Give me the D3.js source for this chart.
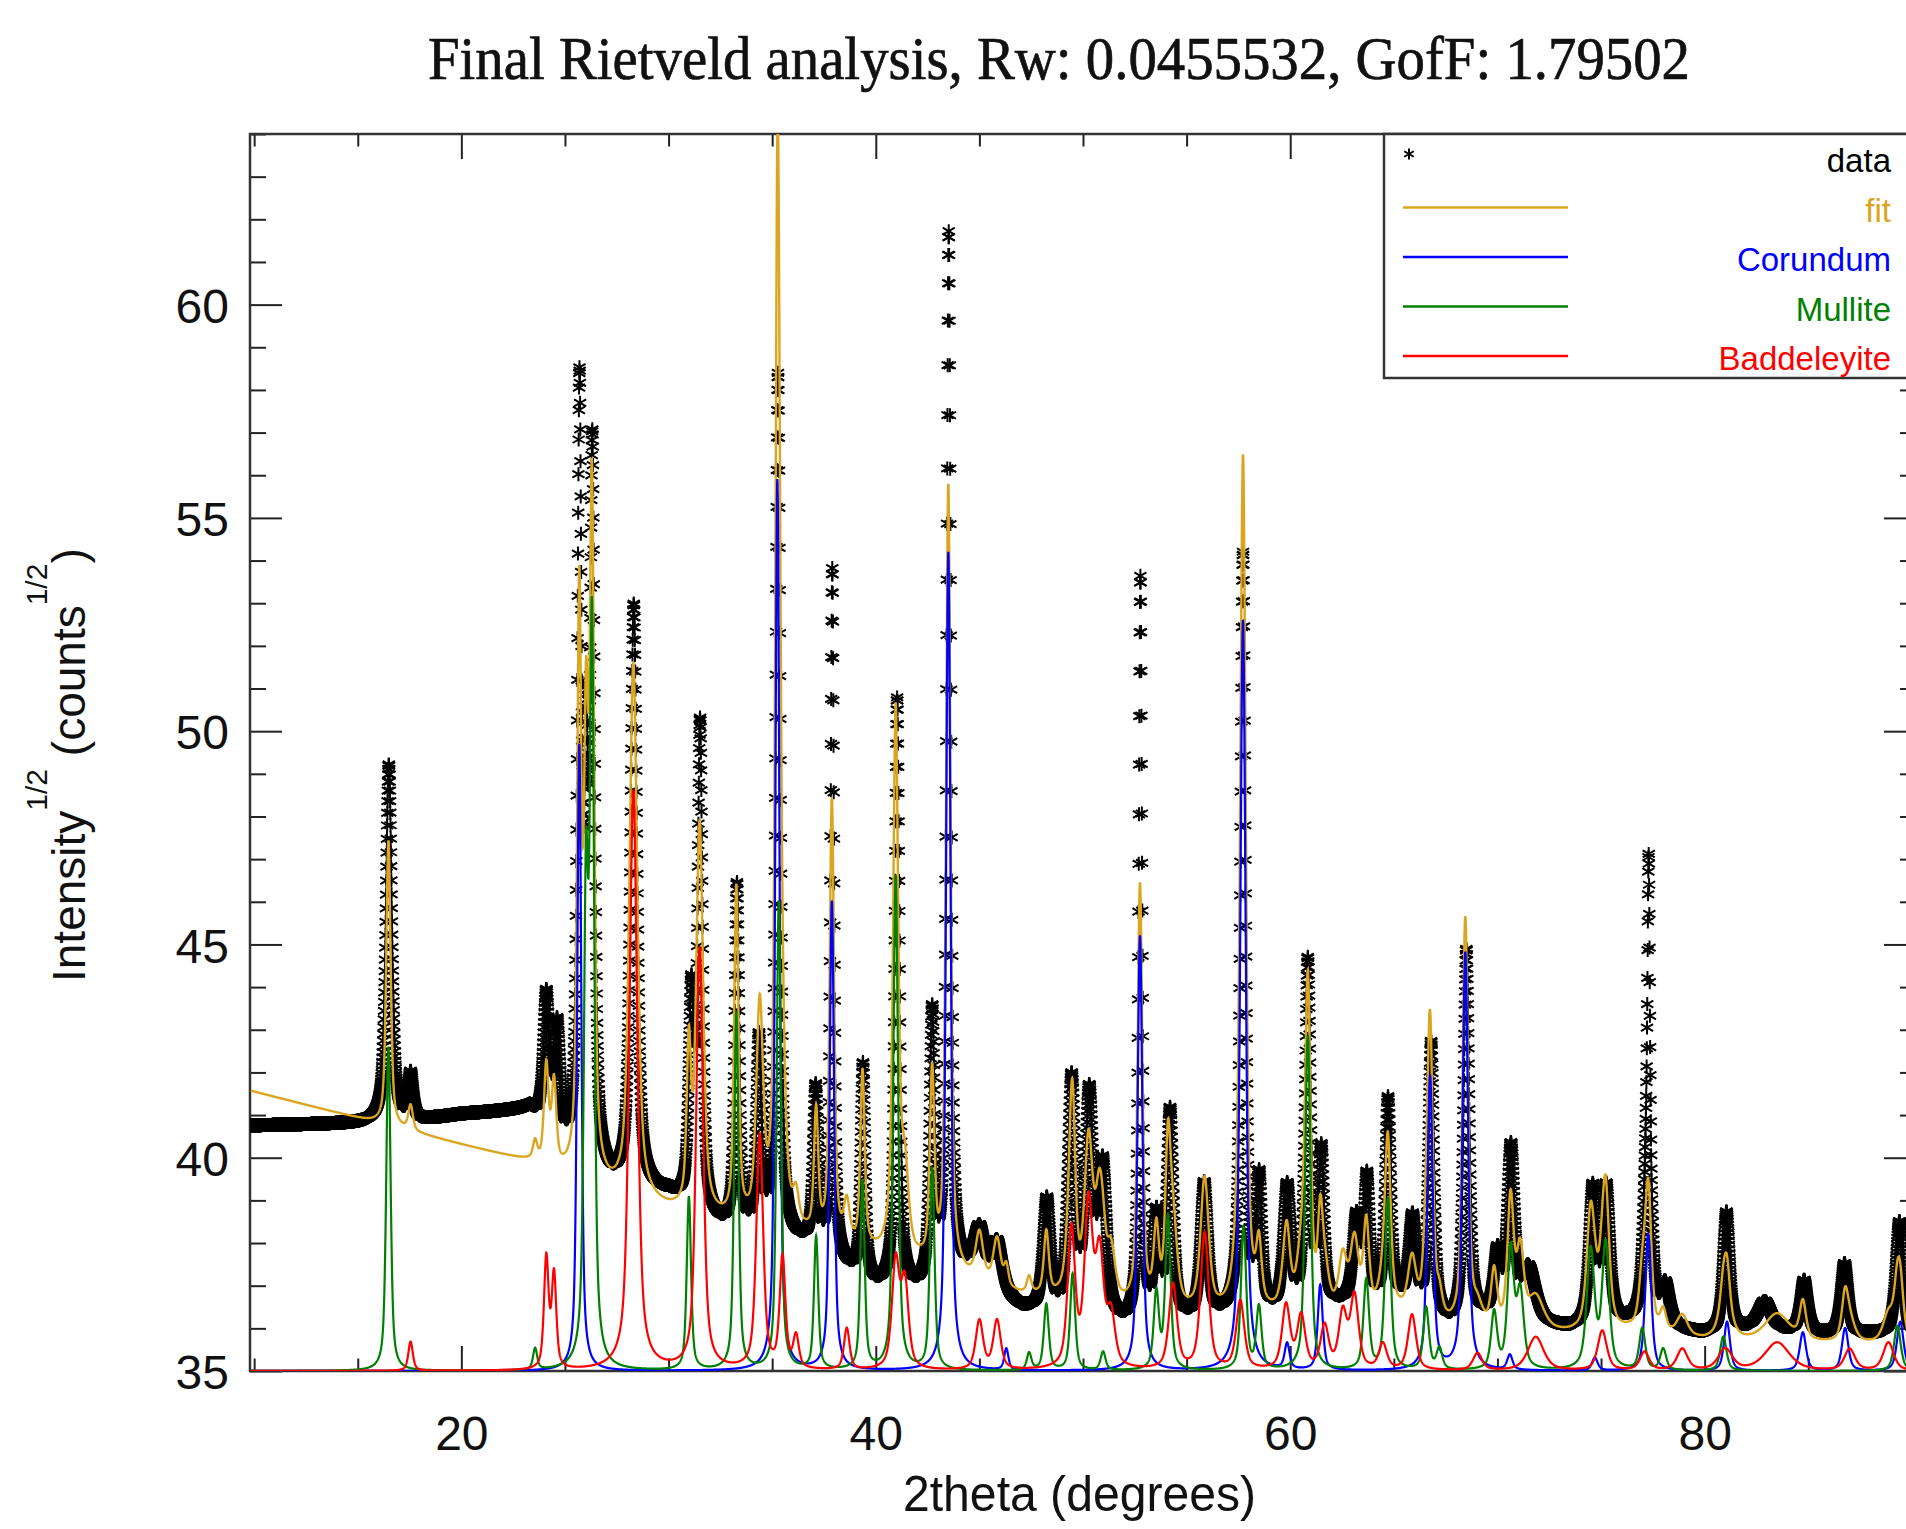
<!DOCTYPE html>
<html>
<head>
<meta charset="utf-8">
<script src="https://cdn.jsdelivr.net/npm/d3@7"></script>
<style>
  body { margin: 0; background: #fff; }
  svg { display: block; }
</style>
</head>
<body>
<div id="vis"></div>
<script>
// peaks are [2theta, top value as drawn (sqrt counts), half width]
const corundumPeaks = [
  [25.69, 49.7, 0.11], [35.25, 55.9, 0.11], [37.88, 46.0, 0.12], [43.50, 54.2, 0.12],
  [46.30, 35.5, 0.12], [52.75, 45.2, 0.13], [57.72, 52.6, 0.14], [59.85, 35.6, 0.14],
  [61.45, 37.0, 0.14], [66.75, 41.9, 0.15], [68.45, 44.8, 0.15], [70.60, 35.35, 0.15],
  [74.70, 35.3, 0.16], [77.28, 38.2, 0.17], [81.08, 36.15, 0.17], [84.74, 35.9, 0.18],
  [86.78, 36.0, 0.18], [89.44, 36.15, 0.19]
];

const mullitePeaks = [
  [16.48, 42.6, 0.12], [23.56, 35.5, 0.12], [26.02, 46.0, 0.12], [26.30, 52.3, 0.12],
  [30.98, 39.06, 0.12], [33.27, 43.4, 0.12], [35.32, 46.0, 0.12], [37.12, 38.12, 0.12],
  [39.36, 39.42, 0.12], [40.96, 46.6, 0.13], [42.72, 39.73, 0.13], [47.40, 35.4, 0.13],
  [48.23, 36.55, 0.14], [49.50, 37.27, 0.14], [50.97, 35.43, 0.14], [53.54, 36.8, 0.15],
  [54.10, 38.6, 0.15], [57.75, 38.34, 0.15], [58.49, 36.46, 0.15], [60.85, 42.86, 0.15],
  [63.67, 37.1, 0.16], [64.71, 39.0, 0.16], [66.56, 36.46, 0.16], [67.20, 35.5, 0.16],
  [69.84, 36.33, 0.17], [70.64, 37.8, 0.18], [71.10, 36.8, 0.20], [74.50, 37.8, 0.22],
  [75.22, 37.94, 0.20], [76.99, 35.97, 0.17], [78.00, 35.5, 0.17], [80.90, 35.8, 0.18],
  [89.30, 36.06, 0.19]
];

const baddeleyitePeaks = [
  [17.55, 35.68, 0.13], [24.10, 37.6, 0.13], [24.47, 37.2, 0.13], [28.30, 48.6, 0.21],
  [31.50, 44.9, 0.19], [34.40, 40.5, 0.19], [35.50, 37.6, 0.16], [36.15, 35.75, 0.16],
  [38.60, 35.97, 0.16], [40.96, 37.5, 0.21], [41.40, 37.0, 0.21], [45.00, 36.15, 0.21],
  [45.85, 36.15, 0.21], [49.44, 38.25, 0.21], [50.27, 38.8, 0.23], [50.80, 37.6, 0.23],
  [51.35, 36.2, 0.23], [54.34, 37.0, 0.23], [55.87, 38.2, 0.23], [57.59, 36.6, 0.23],
  [59.80, 36.5, 0.23], [60.53, 36.24, 0.23], [61.66, 36.0, 0.23], [62.54, 36.3, 0.23],
  [63.10, 36.7, 0.23], [64.47, 35.6, 0.23], [65.88, 36.3, 0.23], [69.04, 35.4, 0.26],
  [71.85, 35.79, 0.45], [75.06, 35.93, 0.26], [77.10, 35.43, 0.26], [78.92, 35.5, 0.30],
  [81.00, 35.5, 0.40], [83.50, 35.66, 0.70], [87.00, 35.5, 0.30], [88.87, 35.66, 0.30]
];

// background under the fitted curve, [2theta, value]
const fitBackground = [
  [9.8, 41.57], [23.3, 39.88], [27.3, 39.1], [30.1, 38.7], [32.6, 38.46], [36.6, 38.1],
  [40, 37.7], [42.1, 37.46], [47, 36.75], [52, 36.43], [57, 36.25], [62, 36.25],
  [65, 36.35], [67.7, 35.95], [73.5, 35.85], [76.4, 35.9], [80, 35.7], [90.2, 35.6]
];

// measured pattern: baseline and peak tops
const dataBackground = [
  [9.8, 40.75], [15.4, 40.8], [18, 40.85], [20, 41.0], [23.3, 41.1], [25.2, 40.0],
  [27.3, 39.3], [30, 39.1], [32.6, 38.3], [36.6, 37.9], [40, 36.9], [42, 36.8],
  [44.5, 37.2], [47, 36.4], [52, 36.0], [56.7, 36.2], [59.2, 36.3], [62.2, 36.5],
  [65.3, 36.6], [67.7, 36.0], [69.3, 36.2], [73.5, 35.95], [76.3, 36.1], [79.9, 35.85],
  [82.5, 36.0], [85.7, 35.85], [90.2, 35.85]
];

const dataPeaks = [
  [16.50, 49.2, 0.16], [17.55, 41.9, 0.14], [24.10, 43.7, 0.16], [24.62, 42.9, 0.16],
  [25.70, 57.8, 0.11], [26.02, 48.5, 0.10], [26.32, 56.3, 0.12], [28.32, 52.9, 0.17],
  [31.10, 43.6, 0.14], [31.52, 50.0, 0.13], [33.30, 46.3, 0.12], [34.36, 42.6, 0.14],
  [35.28, 58.3, 0.12], [37.10, 41.5, 0.14], [37.90, 53.7, 0.09], [39.38, 42.1, 0.12],
  [41.03, 50.7, 0.12], [42.72, 43.2, 0.13], [43.52, 61.6, 0.11], [45.00, 38.2, 0.30],
  [45.85, 37.9, 0.30], [48.25, 38.9, 0.20], [49.45, 41.7, 0.20], [50.30, 41.3, 0.22],
  [50.95, 39.6, 0.22], [52.77, 53.5, 0.09], [53.55, 38.4, 0.15], [54.20, 41.0, 0.18],
  [55.85, 39.3, 0.20], [57.72, 54.1, 0.13], [58.50, 39.3, 0.15], [59.85, 39.2, 0.20],
  [60.85, 44.5, 0.15], [61.50, 40.0, 0.15], [63.20, 38.5, 0.20], [63.70, 39.4, 0.15],
  [64.72, 41.3, 0.15], [65.90, 38.5, 0.20], [66.80, 42.6, 0.15], [68.50, 44.8, 0.15],
  [70.00, 37.6, 0.20], [70.65, 40.1, 0.20], [71.50, 37.3, 0.40], [74.60, 39.2, 0.20],
  [75.25, 39.2, 0.20], [77.25, 40.8, 0.20], [77.30, 43.2, 0.06], [78.10, 36.9, 0.25],
  [81.05, 38.7, 0.18], [82.90, 36.6, 0.35], [84.80, 37.1, 0.20], [86.75, 37.5, 0.20],
  [89.40, 38.5, 0.20]
];

const xTicksMajor = [20, 40, 60, 80];
const yTicksMajor = [35, 40, 45, 50, 55, 60];

const phases = [
  {name: 'Corundum', peaks: corundumPeaks, color: '#0000ff'},
  {name: 'Mullite', peaks: mullitePeaks, color: '#008000'},
  {name: 'Baddeleyite', peaks: baddeleyitePeaks, color: '#ff0000'}
];
const fitColor = '#daa520';

const width = 1906;
const height = 1529;
const plot = {left: 250, right: 1916, top: 134, bottom: 1371};

const x = d3.scaleLinear().domain([9.8, 90.2]).range([plot.left, plot.right]);
const y = d3.scaleLinear().domain([35, 64]).range([plot.bottom, plot.top]);

// peak shape (pseudo-Voigt) and helpers
const eta = 0.6;
function shape(d, w) {
  const u = (d / w) * (d / w);
  return eta / (1 + u) + (1 - eta) * Math.exp(-Math.LN2 * u);
}
function knotScale(knots) {
  return d3.scaleLinear().domain(knots.map(k => k[0])).range(knots.map(k => k[1]));
}
const fitBg = knotScale(fitBackground);
const dataBg = knotScale(dataBackground);

const step = 0.01;
const grid = d3.range(9.84, 90.2, step);

// each phase: counts above the zero level (35^2)
phases.forEach(p => {
  p.counts = grid.map(t => d3.sum(p.peaks, pk => (pk[1] * pk[1] - 35 * 35) * shape(t - pk[0], pk[2])));
  p.values = p.counts.map((c, i) => ({t: grid[i], v: Math.sqrt(35 * 35 + c)}));
});

const fitValues = grid.map((t, i) => {
  const b = fitBg(t);
  const total = d3.sum(phases, p => p.counts[i]);
  return {t: t, v: Math.sqrt(b * b + total)};
});

const dataValues = grid.map(t => {
  const b = dataBg(t);
  const extra = d3.sum(dataPeaks, pk => {
    const b0 = dataBg(pk[0]);
    return (pk[1] * pk[1] - b0 * b0) * shape(t - pk[0], pk[2]);
  });
  return {t: t, v: Math.sqrt(b * b + extra)};
});

const svg = d3.select('#vis').append('svg')
  .attr('width', width)
  .attr('height', height)
  .style('font-family', '"Liberation Sans", Arial, sans-serif');

svg.append('defs').append('clipPath').attr('id', 'plotclip')
  .append('rect')
  .attr('x', plot.left).attr('y', plot.top)
  .attr('width', plot.right - plot.left).attr('height', plot.bottom - plot.top);

// title
svg.append('text')
  .attr('x', 428).attr('y', 79)
  .attr('textLength', 1262).attr('lengthAdjust', 'spacingAndGlyphs')
  .style('font-family', '"Liberation Serif", "Times New Roman", serif')
  .style('font-size', '62px')
  .attr('fill', '#111').attr('stroke', '#111').attr('stroke-width', 0.7)
  .text('Final Rietveld analysis, Rw: 0.0455532, GofF: 1.79502');

// axes
const axisColor = '#222';
function styleAxis(g) {
  g.select('.domain').remove();
  g.selectAll('line').attr('stroke', axisColor).attr('stroke-width', 2);
}
const xMinor = d3.range(10, 91, 5).filter(v => !xTicksMajor.includes(v));
const yMinor = d3.range(35, 65, 1).filter(v => !yTicksMajor.includes(v));

svg.append('g').attr('transform', `translate(0,${plot.bottom})`)
  .call(d3.axisBottom(x).tickValues(xMinor).tickSize(-12.5).tickFormat(''))
  .call(styleAxis);
const xAxis = svg.append('g').attr('transform', `translate(0,${plot.bottom})`)
  .call(d3.axisBottom(x).tickValues(xTicksMajor).tickSize(-25).tickFormat(d3.format('d')))
  .call(styleAxis);
xAxis.selectAll('text').attr('y', 79).attr('dy', 0)
  .style('font-size', '48px').attr('fill', '#111');

svg.append('g').attr('transform', `translate(0,${plot.top})`)
  .call(d3.axisTop(x).tickValues(xMinor).tickSize(-12.5).tickFormat(''))
  .call(styleAxis);
svg.append('g').attr('transform', `translate(0,${plot.top})`)
  .call(d3.axisTop(x).tickValues(xTicksMajor).tickSize(-25).tickFormat(''))
  .call(styleAxis);

svg.append('g').attr('transform', `translate(${plot.left},0)`)
  .call(d3.axisLeft(y).tickValues(yMinor).tickSize(-16).tickFormat(''))
  .call(styleAxis);
const yAxis = svg.append('g').attr('transform', `translate(${plot.left},0)`)
  .call(d3.axisLeft(y).tickValues(yTicksMajor).tickSize(-32).tickPadding(21).tickFormat(d3.format('d')))
  .call(styleAxis);
yAxis.selectAll('text').attr('dy', '0.37em')
  .style('font-size', '48px').attr('fill', '#111');

svg.append('g').attr('transform', `translate(${plot.right},0)`)
  .call(d3.axisRight(y).tickValues(yMinor).tickSize(-16).tickFormat(''))
  .call(styleAxis);
svg.append('g').attr('transform', `translate(${plot.right},0)`)
  .call(d3.axisRight(y).tickValues(yTicksMajor).tickSize(-32).tickFormat(''))
  .call(styleAxis);

svg.append('rect')
  .attr('x', plot.left).attr('y', plot.top)
  .attr('width', plot.right - plot.left).attr('height', plot.bottom - plot.top)
  .attr('fill', 'none').attr('stroke', '#333').attr('stroke-width', 2.5);

// axis titles
svg.append('text')
  .attr('x', 903).attr('y', 1511)
  .attr('textLength', 353).attr('lengthAdjust', 'spacingAndGlyphs')
  .style('font-size', '50px').attr('fill', '#111')
  .text('2theta (degrees)');

const yLabel = svg.append('text')
  .attr('transform', 'translate(85,982) rotate(-90)')
  .style('font-size', '46px').attr('fill', '#111');
yLabel.append('tspan').text('Intensity');
yLabel.append('tspan').attr('dy', -38).style('font-size', '30px').text('1/2');
yLabel.append('tspan').attr('dy', 38).text(' (counts');
yLabel.append('tspan').attr('dy', -38).style('font-size', '30px').text('1/2');
yLabel.append('tspan').attr('dy', 38).text(')');

// asterisk marker
const asterisk = {
  draw(context, size) {
    const r = Math.sqrt(size) / 2;
    const t = r / 2;
    const u = t * Math.sqrt(3);
    context.moveTo(0, -r); context.lineTo(0, r);
    context.moveTo(-u, -t); context.lineTo(u, t);
    context.moveTo(-u, t); context.lineTo(u, -t);
  }
};
const starPath = d3.symbol().type(asterisk).size(196)();

const inner = svg.append('g').attr('clip-path', 'url(#plotclip)');

inner.append('g').selectAll('path')
  .data(dataValues)
  .join('path')
  .attr('d', starPath)
  .attr('transform', d => `translate(${x(d.t)},${y(d.v)})`)
  .attr('fill', 'none')
  .attr('stroke', '#000')
  .attr('stroke-width', 2);

const line = d3.line().x(d => x(d.t)).y(d => y(d.v));

inner.append('path')
  .datum(fitValues)
  .attr('d', line)
  .attr('fill', 'none')
  .attr('stroke', fitColor)
  .attr('stroke-width', 2.4);

phases.forEach(p => {
  inner.append('path')
    .datum(p.values)
    .attr('d', line)
    .attr('fill', 'none')
    .attr('stroke', p.color)
    .attr('stroke-width', 2.2);
});

// legend
const legend = svg.append('g');
legend.append('rect')
  .attr('x', 1384).attr('y', plot.top)
  .attr('width', plot.right - 1384).attr('height', 244)
  .attr('fill', '#fff').attr('stroke', '#333').attr('stroke-width', 2.5);

const legendRows = [
  {label: 'data', color: '#000', star: true},
  {label: 'fit', color: fitColor},
  ...phases.map(p => ({label: p.name, color: p.color}))
];
legendRows.forEach((r, i) => {
  const yy = 158 + i * 49.5;
  if (r.star) {
    legend.append('path')
      .attr('d', d3.symbol().type(asterisk).size(121)())
      .attr('transform', `translate(1409,${yy - 4})`)
      .attr('fill', 'none').attr('stroke', '#000').attr('stroke-width', 2);
  } else {
    legend.append('line')
      .attr('x1', 1403).attr('x2', 1568)
      .attr('y1', yy).attr('y2', yy)
      .attr('stroke', r.color).attr('stroke-width', 2.4);
  }
  legend.append('text')
    .attr('x', 1891).attr('y', yy + 14)
    .attr('text-anchor', 'end')
    .style('font-size', '33px')
    .attr('fill', r.color)
    .text(r.label);
});
</script>
</body>
</html>
